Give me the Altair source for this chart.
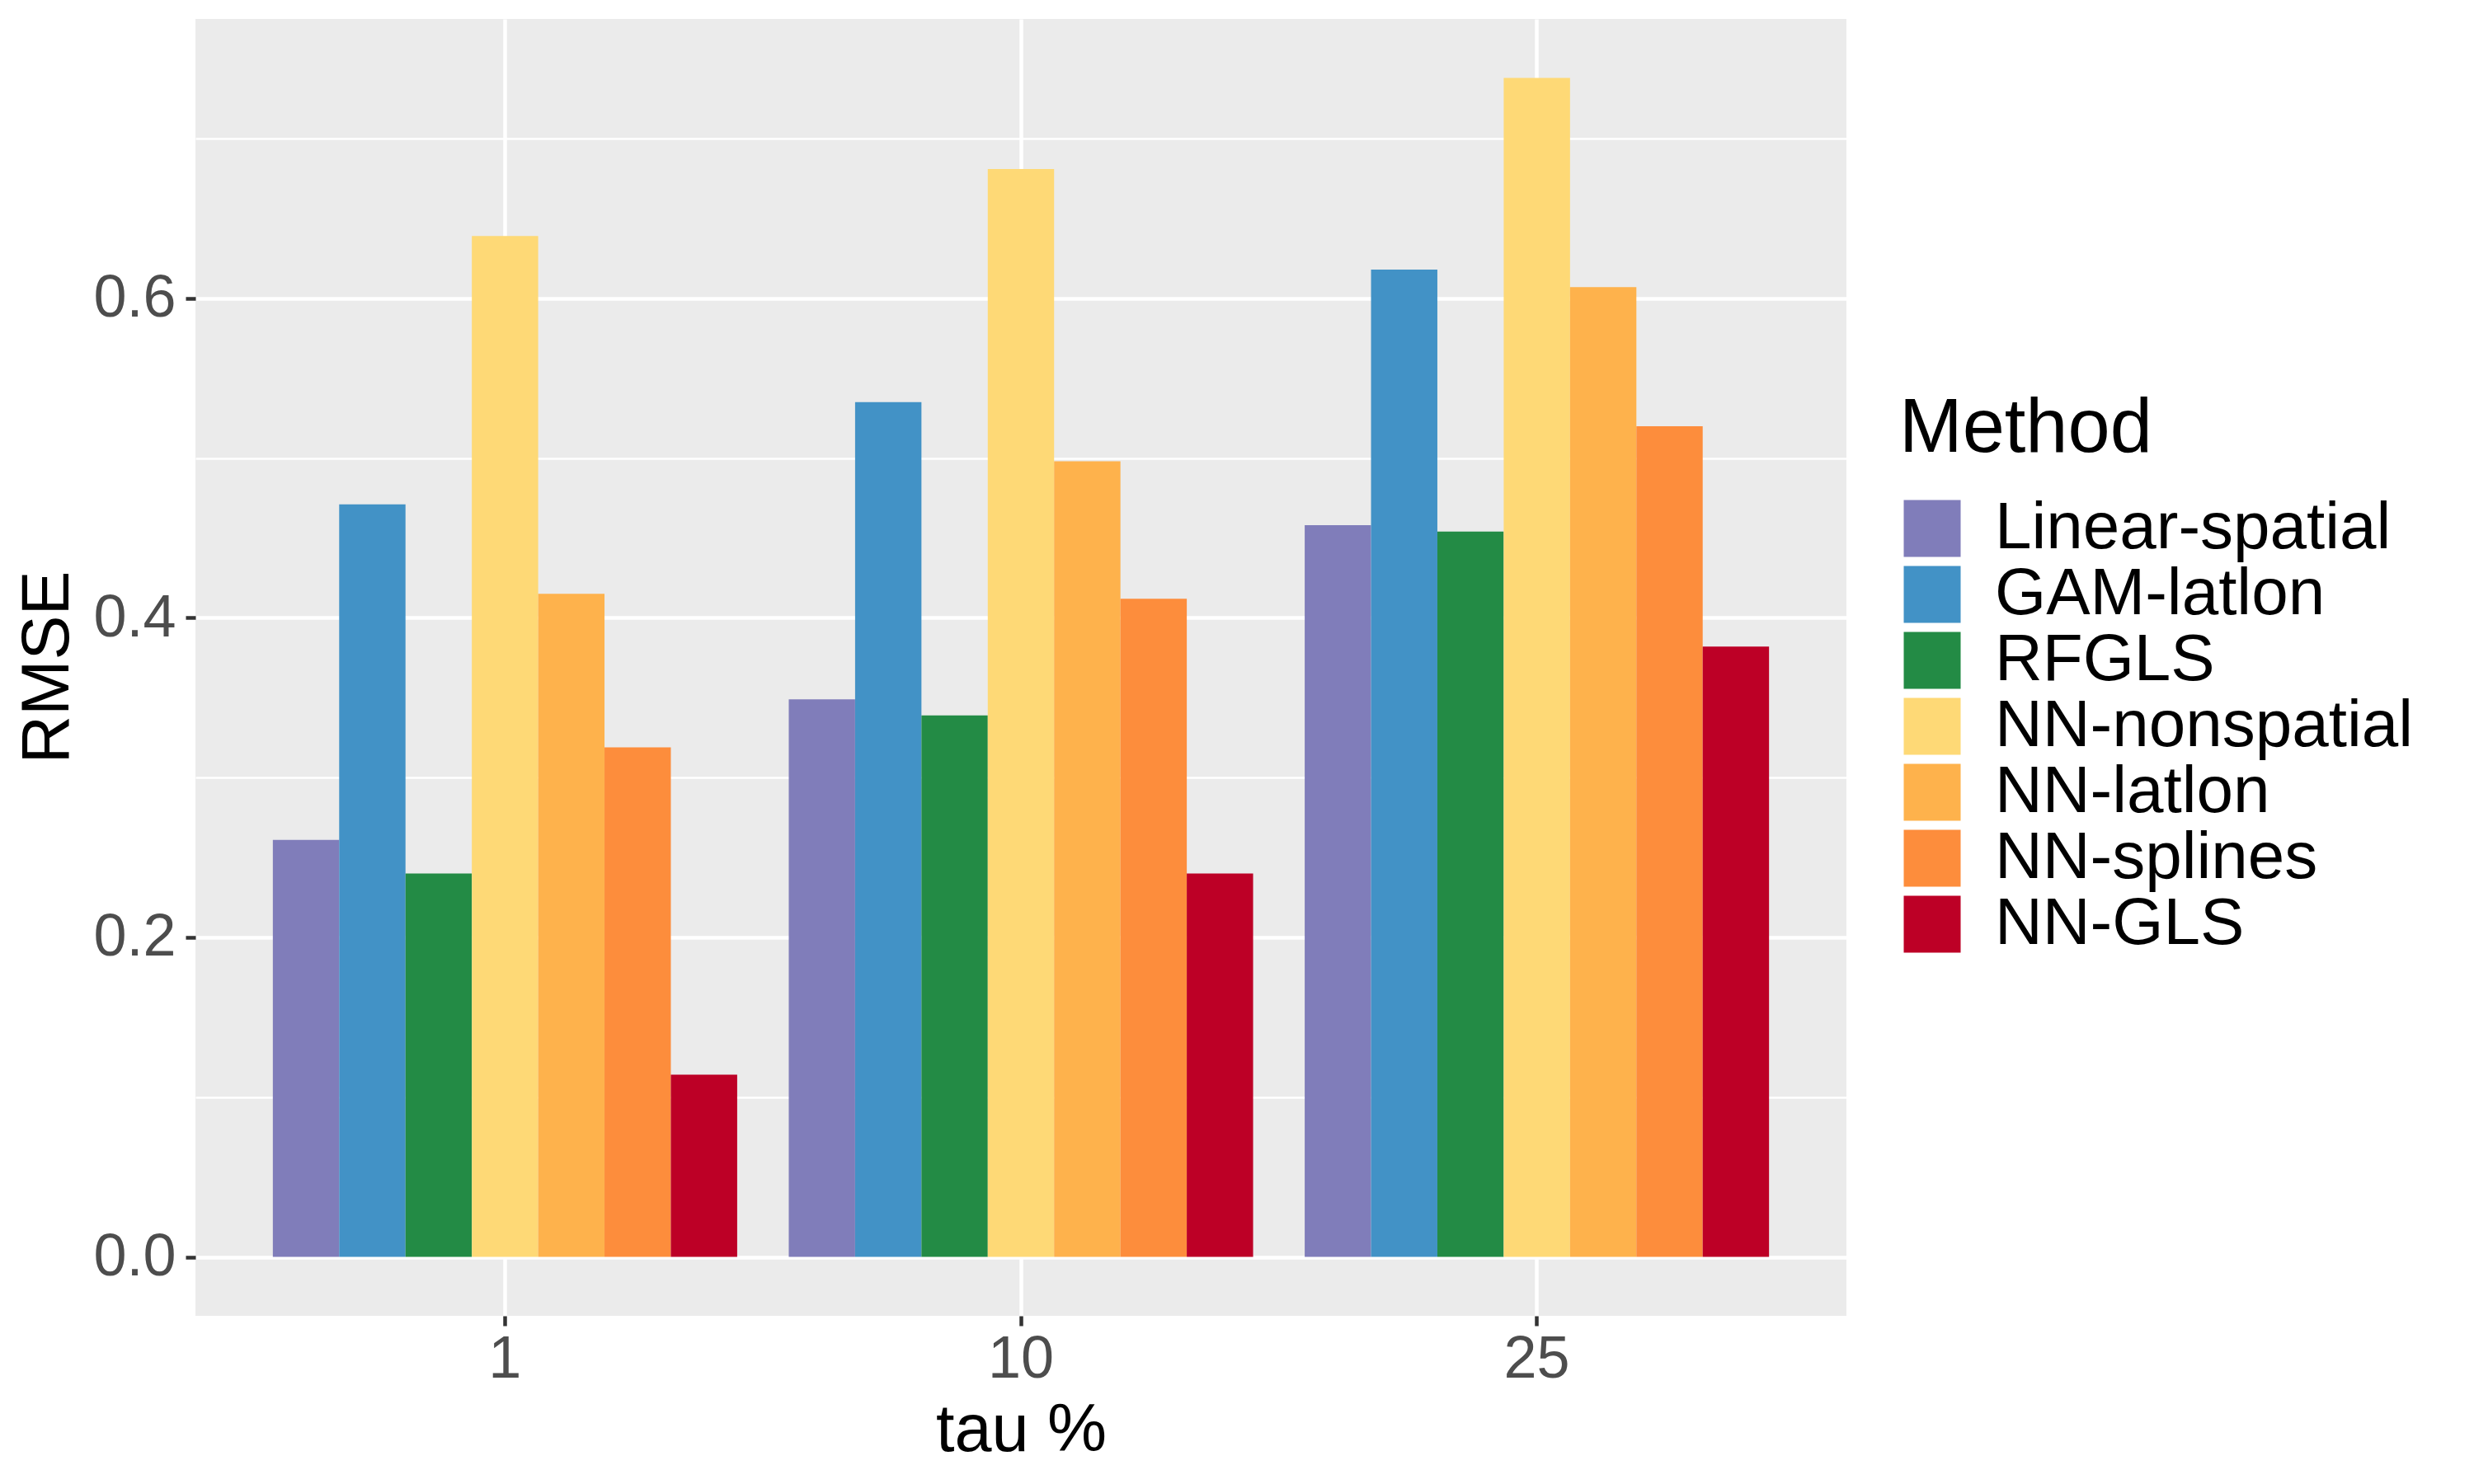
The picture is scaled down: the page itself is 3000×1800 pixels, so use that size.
import altair as alt
import pandas as pd

tau_levels = ["1", "10", "25"]
methods = ["Linear-spatial", "GAM-latlon", "RFGLS", "NN-nonspatial",
           "NN-latlon", "NN-splines", "NN-GLS"]
colors = ["#807DBA", "#4292C6", "#238B45", "#FED976",
          "#FEB24C", "#FD8D3C", "#BD0026"]

# RMSE per method for tau = 1, 10, 25 %
rmse_linear_spatial = [0.261, 0.349, 0.458]
rmse_gam_latlon = [0.471, 0.535, 0.618]
rmse_rfgls = [0.240, 0.339, 0.454]
rmse_nn_nonspatial = [0.639, 0.681, 0.738]
rmse_nn_latlon = [0.415, 0.498, 0.607]
rmse_nn_splines = [0.319, 0.412, 0.520]
rmse_nn_gls = [0.114, 0.240, 0.382]

y_ticks = [0.0, 0.1, 0.2, 0.3, 0.4, 0.5, 0.6, 0.7]

series = [rmse_linear_spatial, rmse_gam_latlon, rmse_rfgls, rmse_nn_nonspatial,
          rmse_nn_latlon, rmse_nn_splines, rmse_nn_gls]
rows = []
for m, vals in zip(methods, series):
    for t, v in zip(tau_levels, vals):
        rows.append({"tau": t, "Method": m, "RMSE": v})
df = pd.DataFrame(rows)

ymax = df["RMSE"].max()
pad = 0.05 * ymax

FONT = "Liberation Sans"
major_test = "round(datum.value * 10) % 2 == 0"

bars = alt.Chart(df).mark_bar().encode(
    x=alt.X(
        "tau:N", sort=tau_levels, title="tau %",
        scale=alt.Scale(paddingInner=0.1, paddingOuter=0.15),
        axis=alt.Axis(
            labelAngle=0, domain=False, bandPosition=0.5,
            grid=True, gridColor="white", gridWidth=4.5,
            ticks=True, tickColor="#333333", tickWidth=4.5, tickSize=12,
            labelFontSize=72, labelColor="#4D4D4D", labelPadding=5,
            titleFontSize=81, titleColor="black", titleFontWeight="normal",
            titleBaseline="alphabetic", titleY=163,
        ),
    ),
    xOffset=alt.XOffset("Method:N", sort=methods,
                        scale=alt.Scale(paddingInner=0, paddingOuter=0)),
    y=alt.Y(
        "RMSE:Q", title="RMSE",
        scale=alt.Scale(domain=[-pad, ymax + pad], nice=False, zero=False),
        axis=alt.Axis(
            values=y_ticks, domain=False,
            labelExpr=f"{major_test} ? format(datum.value, '.1f') : ''",
            grid=True, gridColor="white",
            gridWidth={"condition": {"test": major_test, "value": 4.5}, "value": 2.3},
            ticks=True, tickColor="#333333", tickWidth=4.5, tickSize=12,
            tickOpacity={"condition": {"test": major_test, "value": 1}, "value": 0},
            labelFontSize=72, labelColor="#4D4D4D", labelPadding=12,
            titleFontSize=81, titleColor="black", titleFontWeight="normal",
            titleBaseline="alphabetic", titleX=-155, titleY=786,
        ),
    ),
    y2=alt.datum(0),
    color=alt.Color(
        "Method:N", sort=methods, title="Method",
        scale=alt.Scale(domain=methods, range=colors),
        legend=alt.Legend(
            orient="none", legendX=2066, legendY=452,
            titleFontSize=92, titleColor="black", titleFontWeight="normal",
            titlePadding=34, titleLimit=2000,
            labelFontSize=80, labelColor="black", labelOffset=36, labelLimit=2000,
            symbolType="square", symbolSize=4761, symbolStrokeWidth=0,
            symbolOpacity=1, rowPadding=-2,
        ),
    ),
)

chart = bars.properties(
    width=2002, height=1573,
    autosize=alt.AutoSizeParams(type="none"),
    padding={"left": 229, "top": 15, "right": 753, "bottom": 196},
).configure(
    font=FONT,
).configure_view(
    fill="#EBEBEB", strokeWidth=0,
)

chart.save("out.html", embed_options={"renderer": "svg", "actions": False})
